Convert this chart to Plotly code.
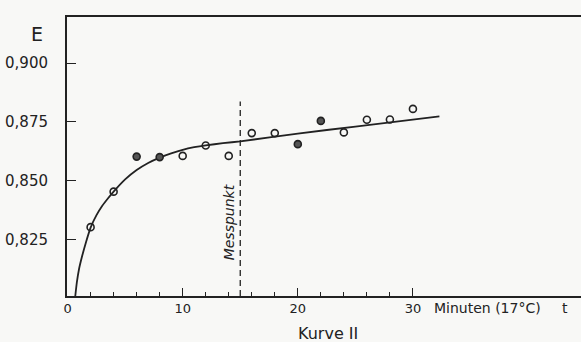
import plotly.graph_objects as go

# Measurement points (Minuten, E)
t_open = [2, 4, 10, 12, 14, 16, 18, 24, 26, 28, 30]
E_open = [0.8302, 0.8453, 0.8605, 0.8649, 0.8605, 0.8702, 0.8702, 0.8705, 0.8759, 0.8760, 0.8805]
t_dark = [6, 8, 20, 22]
E_dark = [0.8602, 0.8600, 0.8655, 0.8754]

# Drawn curve
curve_t = [0.67, 0.8, 1.0, 1.27, 1.6, 2, 2.5, 3, 3.5, 4, 5, 6, 7, 8, 9, 10, 11, 12, 13.5, 15, 20, 25, 32.3]
curve_E = [0.8009, 0.8065, 0.8125, 0.8180, 0.8238, 0.8300, 0.8352, 0.8392, 0.8424, 0.8453, 0.8505,
           0.8545, 0.8575, 0.8598, 0.8616, 0.8631, 0.8642, 0.8650, 0.8659, 0.8667, 0.8700, 0.8730, 0.8773]

# Messpunkt marker line
mess_t = [15, 15]
mess_E = [0.8009, 0.8837]

y_ticks = [0.825, 0.850, 0.875, 0.900]
y_labels = ["0,825", "0,850", "0,875", "0,900"]
x_ticks = [0, 10, 20, 30]
x_labels = ["0", "10", "20", "30"]
x_minor = [2, 4, 6, 8, 12, 14, 16, 18, 22, 24, 26, 28]

ink = "#222222"
paper = "#f8f8f6"
font_family = "DejaVu Sans"

fig = go.Figure()
fig.add_trace(go.Scatter(x=curve_t, y=curve_E, mode="lines",
                         line=dict(color=ink, width=1.8, shape="spline", smoothing=0.5),
                         hoverinfo="skip"))
fig.add_trace(go.Scatter(x=mess_t, y=mess_E, mode="lines",
                         line=dict(color=ink, width=1.3, dash="6px,4px"), hoverinfo="skip"))
fig.add_trace(go.Scatter(x=t_open, y=E_open, mode="markers",
                         marker=dict(symbol="circle-open", size=7, color=ink, line=dict(width=1.6, color=ink))))
fig.add_trace(go.Scatter(x=t_dark, y=E_dark, mode="markers",
                         marker=dict(symbol="circle", size=7, color="#555555", line=dict(width=1.6, color=ink))))

fig.update_layout(
    width=581, height=342,
    margin=dict(l=67, r=0, t=17, b=46),
    paper_bgcolor=paper, plot_bgcolor=paper,
    showlegend=False,
    font=dict(family=font_family, color=ink, size=13),
)
fig.update_xaxes(
    range=[-0.05, 44.6], showgrid=False, zeroline=False, automargin=False,
    showline=True, linecolor=ink, linewidth=1.6, mirror=True,
    tickmode="array", tickvals=x_ticks, ticktext=x_labels,
    ticks="inside", ticklen=8, tickwidth=1.3, tickcolor=ink,
    tickfont=dict(size=13, family=font_family), ticklabelstandoff=0,
    minor=dict(tickmode="array", tickvals=x_minor, ticks="inside", ticklen=4, tickwidth=1.2, tickcolor=ink),
)
fig.update_yaxes(
    range=[0.8009, 0.9196], showgrid=False, zeroline=False, automargin=False,
    showline=True, linecolor=ink, linewidth=2,
    tickmode="array", tickvals=y_ticks, ticktext=y_labels,
    ticks="inside", ticklen=9, tickwidth=1.3, tickcolor=ink,
    tickfont=dict(size=15, family=font_family), ticklabelstandoff=14,
)

fig.add_annotation(x=0, y=1, xref="paper", yref="paper", text="E", showarrow=False,
                   xanchor="center", yanchor="middle", xshift=-30, yshift=-17,
                   font=dict(size=19, family=font_family, color=ink))
fig.add_annotation(x=14.1, y=0.8322, xref="x", yref="y", text="Messpunkt", textangle=-90,
                   showarrow=False, font=dict(size=14, family=font_family, color=ink, style="italic"))
fig.add_annotation(x=31.65, y=0, xref="x", yref="paper", text="Minuten (17°C)", xanchor="left",
                   yanchor="top", yshift=-2, showarrow=False, font=dict(size=14, family=font_family, color=ink))
fig.add_annotation(x=43.2, y=0, xref="x", yref="paper", text="t", yanchor="top", yshift=-2,
                   showarrow=False, font=dict(size=14, family=font_family, color=ink))
fig.add_annotation(x=0.508, y=0, xref="paper", yref="paper", text="Kurve II", yanchor="middle", yshift=-37,
                   showarrow=False, font=dict(size=16, family=font_family, color=ink))

fig.write_html("out.html", config={"displayModeBar": False},
               post_script="document.body.style.margin='0';document.body.style.background='" + paper + "';")
